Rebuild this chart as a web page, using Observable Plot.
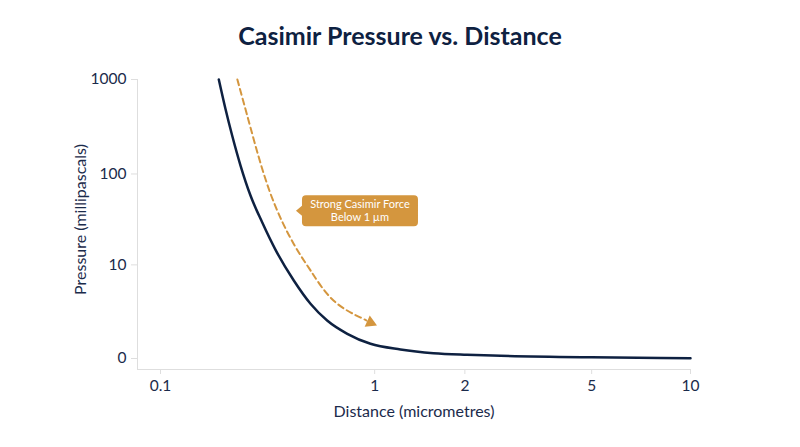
<!DOCTYPE html>
<html><head><meta charset="utf-8">
<script src="https://cdn.jsdelivr.net/npm/d3@7"></script>
<script src="https://cdn.jsdelivr.net/npm/@observablehq/plot@0.6"></script>
<style>
body{margin:0;background:#fff;}
#wrap{position:relative;width:800px;height:447px;overflow:hidden;}
#chart{position:absolute;left:0;top:0;}
#title{position:absolute;left:0;top:20px;width:800px;text-align:center;font:700 25px/1.2 Lato, sans-serif;color:#0E2141;}
</style></head><body>
<div id="wrap"><div id="chart"></div><div id="title">Casimir Pressure vs. Distance</div></div>
<script>
// Curve (distance in µm, pressure in mPa)
const distance = [0.2325, 0.251, 0.271, 0.297, 0.330, 0.372, 0.423, 0.5025, 0.584, 0.675, 0.80, 0.967, 1.226, 1.58, 2.03, 2.6, 5, 10];
const pressure = [1000, 495, 256, 123, 58.8, 30.0, 15.0, 6.48, 3.19, 1.74, 0.944, 0.493, 0.281, 0.158, 0.108, 0.078, 0.034, 0.01];
// Dashed annotation arrow
const arrowDistance = [0.287, 0.33, 0.403, 0.501, 0.584, 0.7125, 0.892, 0.936];
const arrowPressure = [1000, 311, 62, 17.6, 8.6, 3.55, 1.96, 1.74];
const arrowHead = [{d: 0.967, p: 1.60}];
const noteAt = {d: 0.515, p: 39.8};
const noteLines = ["Strong Casimir Force", "Below 1 µm"];
const xTicks = [0.1, 1, 2, 5, 10];
const yTicks = [0, 10, 100, 1000];

const navy = "#0E2141";
const textNavy = "#1B2B4B";
const orange = "#D4963E";
const grid = "#DEDEDE";

const curve = distance.map((d, i) => ({d, p: pressure[i]}));
const arrow = arrowDistance.map((d, i) => ({d, p: arrowPressure[i]}));

// Callout box with a pointer, anchored at a data point
function callout(index, scales) {
  const px = scales.x(noteAt.d), py = scales.y(noteAt.p);
  const w = 116, h = 31, r = 4, ptr = 6, ph = 5;
  const x0 = px + ptr, y0 = py - h / 2;
  const g = d3.create("svg:g").attr("aria-label", "callout");
  g.append("path")
    .attr("fill", orange)
    .attr("d", `M${px},${py}L${x0},${py - ph}V${y0 + r}Q${x0},${y0} ${x0 + r},${y0}H${x0 + w - r}Q${x0 + w},${y0} ${x0 + w},${y0 + r}V${y0 + h - r}Q${x0 + w},${y0 + h} ${x0 + w - r},${y0 + h}H${x0 + r}Q${x0},${y0 + h} ${x0},${y0 + h - r}V${py + ph}Z`);
  const t = g.append("text")
    .attr("fill", "#fff")
    .attr("font-size", 11)
    .attr("text-anchor", "middle");
  noteLines.forEach((s, i) => {
    t.append("tspan").attr("x", x0 + w / 2).attr("y", py - 2.7 + i * 12.7).text(s);
  });
  return g.node();
}

const chart = Plot.plot({
  width: 800, height: 447,
  marginLeft: 137, marginRight: 110, marginTop: 79, marginBottom: 78,
  x: {type: "symlog", constant: 0.17, domain: [0.1, 10], insetLeft: 23},
  y: {type: "symlog", constant: 1.15, domain: [0, 1000], insetBottom: 11},
  style: {fontFamily: "Lato, sans-serif", fontSize: "15.5px", color: textNavy, background: "#fff"},
  marks: [
    Plot.frame({anchor: "left", stroke: grid}),
    Plot.frame({anchor: "bottom", stroke: grid}),
    Plot.axisX({ticks: xTicks, tickFormat: d => String(d), tickSize: 5, stroke: grid, fill: textNavy, tickPadding: 5, label: null}),
    Plot.axisY({ticks: yTicks, tickFormat: d => String(d), tickSize: 6, stroke: grid, fill: textNavy, tickPadding: 5, label: null}),
    Plot.text(["Distance (micrometres)"], {frameAnchor: "bottom", dy: 42, lineAnchor: "middle", textAnchor: "middle", fontSize: 16, fill: textNavy}),
    Plot.text(["Pressure (millipascals)"], {frameAnchor: "left", dx: -57, dy: -5, rotate: -90, textAnchor: "middle", lineAnchor: "middle", fontSize: 16, fill: textNavy}),
    Plot.line(curve, {x: "d", y: "p", stroke: navy, strokeWidth: 2.5, curve: "monotone-x"}),
    Plot.line(arrow, {x: "d", y: "p", stroke: orange, strokeWidth: 2, strokeDasharray: "6,4", curve: "natural"}),
    Plot.dot(arrowHead, {x: "d", y: "p", symbol: "triangle", r: 4.6, fill: orange, stroke: "none", rotate: 114}),
    callout
  ]
});
document.getElementById("chart").appendChild(chart);
</script>
</body></html>
